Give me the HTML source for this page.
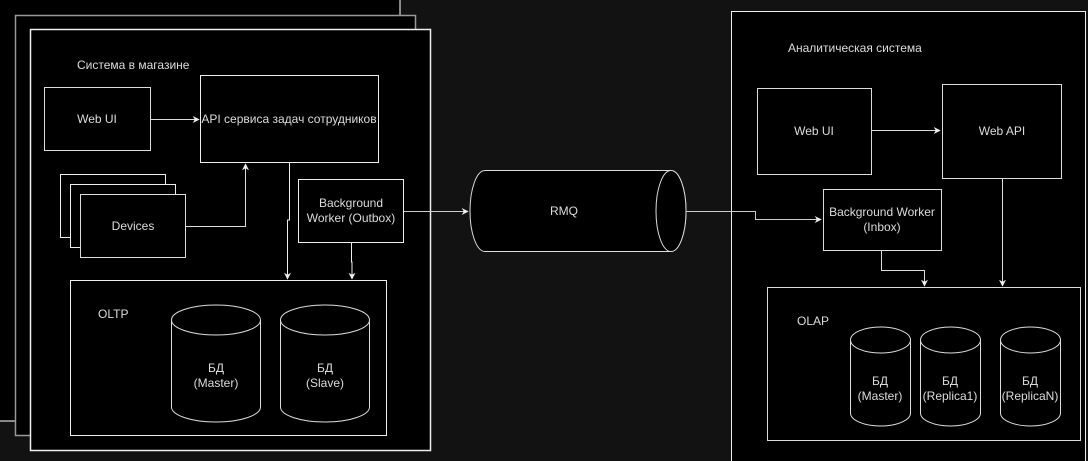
<!DOCTYPE html>
<html><head><meta charset="utf-8"><style>
html,body{margin:0;padding:0;background:#121212;}
svg{display:block;}
text{font-family:"Liberation Sans",sans-serif;font-size:12px;fill:#dcdcdc;}
</style></head><body>
<svg width="1088" height="461" viewBox="0 0 1088 461" xmlns="http://www.w3.org/2000/svg">
<defs>
<marker id="a" viewBox="0 0 10 10" refX="9" refY="5" markerWidth="7" markerHeight="7" orient="auto"><path d="M0,0 L10,5 L0,10 L3,5 z" fill="#eee"/></marker>
</defs>
<!-- stacked store systems -->
<rect x="-2" y="-2" width="402" height="423" fill="#000" stroke="#ddd" stroke-width="1.2"/>
<rect x="15.5" y="15.5" width="400" height="420" fill="#000" stroke="#999" stroke-width="1.5"/>
<rect x="30.5" y="29.5" width="400" height="421" fill="#000" stroke="#eee" stroke-width="1.5"/>
<text x="77" y="69">Система в магазине</text>

<rect x="44.5" y="87.5" width="106" height="63" fill="#000" stroke="#ddd"/>
<text x="97" y="123" text-anchor="middle">Web UI</text>
<rect x="200.5" y="75.5" width="178" height="87" fill="#000" stroke="#eee"/>
<text x="289" y="123" text-anchor="middle">API сервиса задач сотрудников</text>
<path d="M151 119.5 H199" stroke="#ddd" fill="none" marker-end="url(#a)"/>

<rect x="60.5" y="174.5" width="105" height="63" fill="#000" stroke="#eee"/>
<rect x="70.5" y="184.5" width="105" height="63" fill="#000" stroke="#eee"/>
<rect x="80.5" y="194.5" width="105" height="63" fill="#000" stroke="#ddd"/>
<text x="133" y="230" text-anchor="middle">Devices</text>
<path d="M186 226.5 H245.5 V164" stroke="#ddd" fill="none" marker-end="url(#a)"/>

<rect x="298.5" y="179.5" width="105" height="63" fill="#000" stroke="#eee"/>
<text x="351" y="207" text-anchor="middle">Background</text>
<text x="351" y="222" text-anchor="middle">Worker (Outbox)</text>

<path d="M289.5 162 V220 H287.5 V279" stroke="#eee" fill="none" marker-end="url(#a)"/>
<path d="M351.5 243 V262 H352 V279" stroke="#eee" fill="none" marker-end="url(#a)"/>

<rect x="70.5" y="280.5" width="316" height="155" fill="#000" stroke="#eee"/>
<text x="98" y="318">OLTP</text>
<g stroke="#ddd" fill="#000">
<path d="M171.5 320 V407 A44.5 15 0 0 0 260.5 407 V320"/>
<ellipse cx="216" cy="320" rx="44.5" ry="15"/>
<path d="M280.5 320 V407 A44.5 15 0 0 0 369.5 407 V320"/>
<ellipse cx="325" cy="320" rx="44.5" ry="15"/>
</g>
<text x="216" y="372" text-anchor="middle">БД</text>
<text x="216" y="387" text-anchor="middle">(Master)</text>
<text x="325" y="372" text-anchor="middle">БД</text>
<text x="325" y="387" text-anchor="middle">(Slave)</text>

<!-- RMQ -->
<path d="M404 211.5 H468" stroke="#ccc" fill="none" marker-end="url(#a)"/>
<path d="M485 170.5 H671 A15 40.5 0 0 1 671 251.5 H485 A15 40.5 0 0 1 485 170.5 Z" fill="#000" stroke="#ddd"/>
<ellipse cx="671" cy="211" rx="15" ry="40.5" fill="#000" stroke="#ddd"/>
<text x="564" y="215" text-anchor="middle">RMQ</text>

<!-- Analytics -->
<rect x="731.5" y="11.5" width="354" height="452" fill="#000" stroke="#eee"/>
<text x="788" y="52">Аналитическая система</text>
<path d="M686 211.5 H755.5 V219.5 H821" stroke="#ccc" fill="none" marker-end="url(#a)"/>
<rect x="757.5" y="88.5" width="114" height="86" fill="#000" stroke="#ddd"/>
<text x="814" y="135" text-anchor="middle">Web UI</text>
<rect x="942.5" y="84.5" width="119" height="94" fill="#000" stroke="#ddd"/>
<text x="1002" y="135" text-anchor="middle">Web API</text>
<path d="M872 130.5 H940" stroke="#ddd" fill="none" marker-end="url(#a)"/>
<rect x="823.5" y="189.5" width="118" height="61" fill="#000" stroke="#ddd"/>
<text x="882" y="216" text-anchor="middle">Background Worker</text>
<text x="882" y="231" text-anchor="middle">(Inbox)</text>
<path d="M881.5 251 V270.5 H924.5 V286" stroke="#ddd" fill="none" marker-end="url(#a)"/>
<path d="M1002.5 179 V286" stroke="#ddd" fill="none" marker-end="url(#a)"/>

<rect x="767.5" y="287.5" width="313" height="153" fill="#000" stroke="#ddd"/>
<text x="797" y="325">OLAP</text>
<g stroke="#ddd" fill="#000">
<path d="M850.5 340 V413 A30 13 0 0 0 910.5 413 V340"/>
<ellipse cx="880.5" cy="340" rx="30" ry="13"/>
<path d="M920.5 340 V413 A30 13 0 0 0 980.5 413 V340"/>
<ellipse cx="950.5" cy="340" rx="30" ry="13"/>
<path d="M1000.5 340 V413 A30 13 0 0 0 1060.5 413 V340"/>
<ellipse cx="1030.5" cy="340" rx="30" ry="13"/>
</g>
<text x="880" y="385" text-anchor="middle">БД</text>
<text x="880" y="400" text-anchor="middle">(Master)</text>
<text x="950" y="385" text-anchor="middle">БД</text>
<text x="950" y="400" text-anchor="middle">(Replica1)</text>
<text x="1030" y="385" text-anchor="middle">БД</text>
<text x="1030" y="400" text-anchor="middle">(ReplicaN)</text>
</svg>
</body></html>
